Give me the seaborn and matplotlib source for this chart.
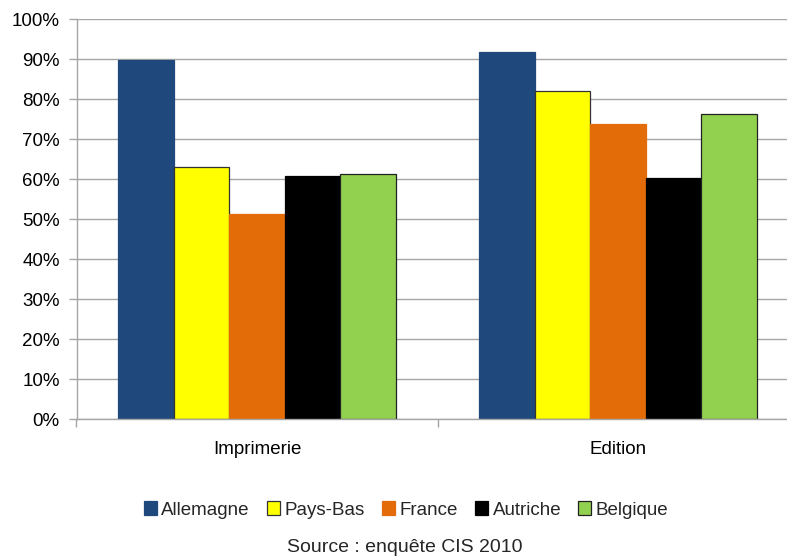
import matplotlib
matplotlib.use("Agg")
import matplotlib.pyplot as plt
import seaborn as sns
import pandas as pd
from matplotlib.ticker import PercentFormatter

sectors = ["Imprimerie", "Edition"]
countries = ["Allemagne", "Pays-Bas", "France", "Autriche", "Belgique"]
imprimerie = [89.8, 63.0, 51.3, 60.7, 61.2]
edition = [91.8, 82.0, 73.7, 60.2, 76.2]
colors = ["#1F497D", "#FFFF00", "#E36C09", "#000000", "#92D050"]
edges = ["#1F497D", "#333333", "#E36C09", "#000000", "#222222"]

rows = []
for sector, vals in zip(sectors, [imprimerie, edition]):
    for c, v in zip(countries, vals):
        rows.append({"secteur": sector, "pays": c, "valeur": v})
df = pd.DataFrame(rows)

sns.set_theme(style="white")
plt.rcParams["font.family"] = ["Liberation Sans", "DejaVu Sans"]
fs = 13.5

fig = plt.figure(figsize=(7.87, 5.6), dpi=100)
ax = fig.add_axes([76.5 / 787, 1 - 419 / 560, 722 / 787, 400 / 560])

sns.barplot(data=df, x="secteur", y="valeur", hue="pays", order=sectors,
            hue_order=countries, palette=colors, width=0.77, saturation=1,
            legend=False, ax=ax)

for cont, ec in zip(ax.containers, edges):
    for p in cont:
        p.set_edgecolor(ec)
        p.set_linewidth(0.9)

ax.set_xlim(-0.5, 1.5)
ax.set_ylim(0, 100)
ax.set_yticks(range(0, 101, 10))
ax.yaxis.set_major_formatter(PercentFormatter(decimals=0))
ax.yaxis.grid(True, color="#A6A6A6", linewidth=1.0)
ax.set_axisbelow(True)
ax.set_xlabel("")
ax.set_ylabel("")

for s in ["top", "right"]:
    ax.spines[s].set_visible(False)
for s in ["left", "bottom"]:
    ax.spines[s].set_color("#A6A6A6")
    ax.spines[s].set_linewidth(1.0)

ax.tick_params(axis="y", which="major", left=True, length=6, width=1,
               color="#A6A6A6", labelsize=fs, pad=6, labelcolor="#000000")
ax.tick_params(axis="x", which="major", length=0, labelsize=fs, pad=16,
               labelcolor="#000000")
ax.set_xticks([-0.5, 0.5, 1.5], minor=True)
ax.tick_params(axis="x", which="minor", bottom=True, length=6, width=1,
               color="#A6A6A6")

handles = [plt.Rectangle((0, 0), 1, 1, facecolor=c, edgecolor=e, linewidth=0.9)
           for c, e in zip(colors, edges)]
fig.legend(handles, countries, loc="center",
           bbox_to_anchor=(406 / 787, 1 - 510 / 560),
           ncol=5, frameon=False, fontsize=fs, handlelength=0.7,
           handleheight=0.7, handletextpad=0.25, columnspacing=0.9)
fig.text(405 / 787, 1 - 547 / 560, "Source : enquête CIS 2010", ha="center",
         va="center", fontsize=fs + 0.5)

fig.savefig("out.png", dpi=100)
